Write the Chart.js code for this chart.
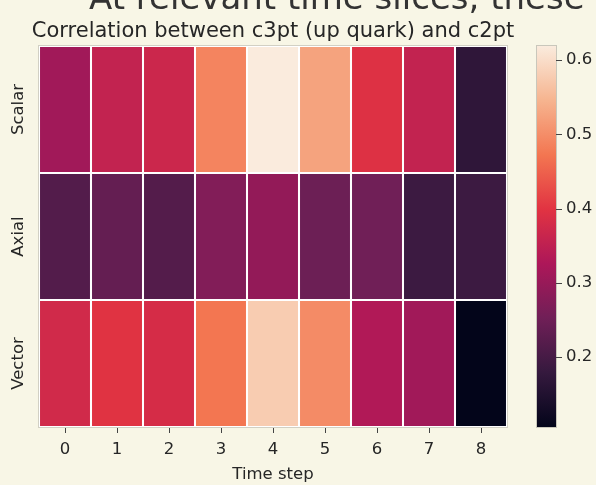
<!DOCTYPE html>
<html>
<head>
<meta charset="utf-8">
<script src="https://cdn.jsdelivr.net/npm/chart.js@4/dist/chart.umd.min.js"></script>
<style>
  html, body { margin: 0; padding: 0; background: #f8f6e6; }
</style>
</head>
<body>
<canvas id="heat" width="596" height="485"></canvas>
<script>
// time steps on x, current types on y
const steps = ['0', '1', '2', '3', '4', '5', '6', '7', '8'];
const rows = ['Scalar', 'Axial', 'Vector'];

// correlation values
const scalar = [0.311, 0.356, 0.368, 0.489, 0.619, 0.526, 0.393, 0.356, 0.170];
const axial  = [0.217, 0.238, 0.218, 0.274, 0.295, 0.248, 0.253, 0.188, 0.188];
const vector = [0.375, 0.398, 0.382, 0.473, 0.578, 0.497, 0.332, 0.311, 0.106];

const cbTicks = [0.2, 0.3, 0.4, 0.5, 0.6];

const titleText = 'Correlation between c3pt (up quark) and c2pt';
const headingText = 'At relevant time slices, these';

// seaborn "rocket" colormap, sampled
const rocketStops = [
  [0, '#03051a'], [1 / 7, '#35193e'], [2 / 7, '#701f57'], [3 / 7, '#ad1759'],
  [4 / 7, '#e13342'], [5 / 7, '#f37651'], [6 / 7, '#f6b48f'], [1, '#faebdd']
];

function hexRgb(h) {
  return [parseInt(h.slice(1, 3), 16), parseInt(h.slice(3, 5), 16), parseInt(h.slice(5, 7), 16)];
}

function rocket(t) {
  t = Math.max(0, Math.min(1, t));
  for (let i = 1; i < rocketStops.length; i++) {
    const [t1, c1] = rocketStops[i];
    if (t <= t1) {
      const [t0, c0] = rocketStops[i - 1];
      const f = (t - t0) / (t1 - t0);
      const a = hexRgb(c0), b = hexRgb(c1);
      const m = a.map((v, k) => Math.round(v + (b[k] - v) * f));
      return 'rgb(' + m.join(',') + ')';
    }
  }
  return rocketStops[rocketStops.length - 1][1];
}

const series = [scalar, axial, vector];
const allVals = series.flat();
const vmin = Math.min(...allVals);
const vmax = Math.max(...allVals);

const textColor = '#262626';
const font = { family: 'DejaVu Sans', size: 16.5 };

const datasets = series.map((vals, r) => ({
  label: rows[r],
  data: steps.map(s => ({ x: s, y: [rows.length - 1 - r, rows.length - r] })),
  backgroundColor: vals.map(v => rocket((v - vmin) / (vmax - vmin))),
  borderColor: '#ffffff',
  borderWidth: 1.35,
  borderSkipped: false,
  grouped: false,
  barPercentage: 1,
  categoryPercentage: 1
}));

const heatPlugin = {
  id: 'heatExtras',
  beforeDraw(chart) {
    const ctx = chart.ctx;
    ctx.save();
    ctx.fillStyle = '#f8f6e6';
    ctx.fillRect(0, 0, chart.width, chart.height);
    // heading of the notebook cell above, mostly cut off
    ctx.fillStyle = '#333333';
    ctx.font = '34px "DejaVu Sans"';
    ctx.textBaseline = 'alphabetic';
    ctx.textAlign = 'left';
    ctx.fillText(headingText, 89, 9);
    ctx.restore();
  },
  afterDraw(chart) {
    const ctx = chart.ctx;
    const area = chart.chartArea;
    const yScale = chart.scales.y;
    const cb = chart.scales.cb;
    ctx.save();

    // title, centred on the mesh
    ctx.fillStyle = textColor;
    ctx.font = '21px "DejaVu Sans"';
    ctx.textAlign = 'center';
    ctx.textBaseline = 'alphabetic';
    ctx.fillText(titleText, (area.left + area.right) / 2, 37);

    // thin frame round the mesh
    ctx.strokeStyle = '#d2d0c4';
    ctx.lineWidth = 1;
    ctx.strokeRect(area.left - 0.5, area.top - 0.5, area.right - area.left + 1, area.bottom - area.top + 1);

    // row labels, rotated
    ctx.font = font.size + 'px "DejaVu Sans"';
    ctx.textAlign = 'center';
    ctx.textBaseline = 'middle';
    rows.forEach((name, r) => {
      const y = yScale.getPixelForValue(rows.length - 1 - r + 0.5);
      ctx.save();
      ctx.translate(19, y);
      ctx.rotate(-Math.PI / 2);
      ctx.fillText(name, 0, 0);
      ctx.restore();
    });

    // colour bar
    const cbLeft = 537, cbWidth = 19;
    const top = cb.getPixelForValue(vmax);
    const bottom = cb.getPixelForValue(vmin);
    const grad = ctx.createLinearGradient(0, bottom, 0, top);
    rocketStops.forEach(([t, c]) => grad.addColorStop(t, c));
    ctx.fillStyle = grad;
    ctx.fillRect(cbLeft, top, cbWidth, bottom - top);
    ctx.strokeStyle = '#c9c7bb';
    ctx.strokeRect(cbLeft - 0.5, top - 0.5, cbWidth + 1, bottom - top + 1);

    ctx.strokeStyle = '#444444';
    ctx.beginPath();
    cbTicks.forEach(v => {
      const y = Math.round(cb.getPixelForValue(v)) + 0.5;
      ctx.moveTo(cbLeft + cbWidth, y);
      ctx.lineTo(cbLeft + cbWidth + 6, y);
    });
    ctx.stroke();
    ctx.restore();
  }
};

new Chart(document.getElementById('heat'), {
  type: 'bar',
  data: { labels: steps, datasets: datasets },
  options: {
    responsive: false,
    animation: false,
    devicePixelRatio: 1,
    layout: { padding: { top: 46 } },
    plugins: {
      legend: { display: false },
      tooltip: { enabled: false },
      title: { display: false }
    },
    scales: {
      x: {
        type: 'category',
        offset: true,
        grid: { offset: false, drawOnChartArea: false, drawTicks: true, tickLength: 6, color: '#444444', lineWidth: 1 },
        border: { display: false },
        ticks: { font: font, color: textColor, padding: 7, maxRotation: 0, minRotation: 0 },
        title: { display: true, text: 'Time step', font: font, color: textColor, padding: { top: 4, bottom: 0 } },
        afterFit(scale) { scale.height = 58; }
      },
      y: {
        type: 'linear',
        min: 0,
        max: 3,
        position: 'left',
        grid: { display: false, drawTicks: false },
        border: { display: false },
        ticks: { display: false },
        afterFit(scale) { scale.width = 39; }
      },
      cb: {
        type: 'linear',
        position: 'right',
        min: vmin,
        max: vmax,
        grid: { display: false, drawTicks: false },
        border: { display: false },
        ticks: { font: font, color: textColor, padding: 59, callback: v => v.toFixed(1) },
        afterBuildTicks(scale) { scale.ticks = cbTicks.map(v => ({ value: v })); },
        afterFit(scale) {
          scale.width = 89;
          scale.paddingTop = 0;
          scale.paddingBottom = 0;
        }
      }
    }
  },
  plugins: [heatPlugin]
});
</script>
</body>
</html>
